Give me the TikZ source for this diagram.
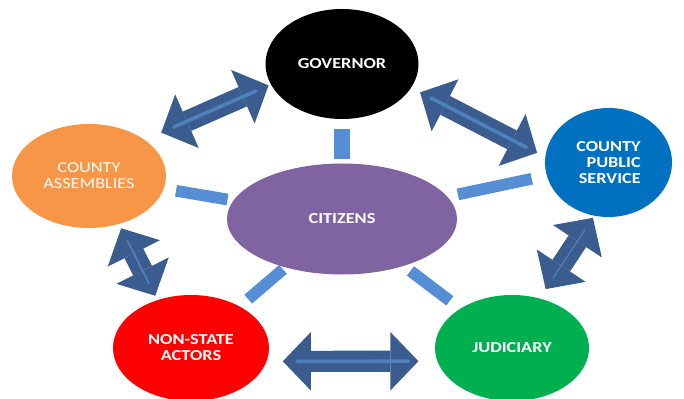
\documentclass[tikz,border=0pt]{standalone}
\usepackage{fontspec}
\setmainfont{Carlito}[FakeStretch=1.2]
\usetikzlibrary{shapes.geometric,arrows.meta}

\definecolor{psblue}{RGB}{0,112,192}
\definecolor{assorange}{RGB}{247,150,70}
\definecolor{citpurple}{RGB}{128,100,162}
\definecolor{nsred}{RGB}{255,0,0}
\definecolor{judgreen}{RGB}{0,176,80}
\definecolor{arrowblue}{RGB}{59,92,142}
\definecolor{stripeblue}{RGB}{79,129,189}
\definecolor{barblue}{RGB}{85,142,213}

\begin{document}
\begin{tikzpicture}[x=0.03cm, y=-0.03cm,
    body/.style={ellipse, inner sep=0pt, text=white, align=center,
        font=\fontsize{13}{13.7}\selectfont\bfseries},
    bar/.style={barblue, line width=10pt},
    dblarrow/.style={arrowblue, line width=18pt,
        {Triangle[length=24pt,width=50pt,line width=0pt]}-{Triangle[length=24pt,width=50pt,line width=0pt]}},
    stripe/.style={stripeblue, line width=3pt, line cap=round}]
    \useasboundingbox (0,0) rectangle (684,399);

    % Centre and outer bodies
    \node[body, fill=citpurple, minimum width=6.9cm, minimum height=3.33cm] (cit) at (342,219) {CITIZENS};
    \node[body, fill=black, minimum width=4.59cm, minimum height=3.3cm] (gov) at (342,64) {GOVERNOR};
    \node[body, fill=psblue, minimum width=3.81cm, minimum height=3.27cm, align=right] (ps) at (608.5,162.5) {COUNTY\\PUBLIC\\SERVICE};
    \node[body, fill=assorange, minimum width=4.62cm, minimum height=3.12cm, font=\fontsize{13}{13.7}\selectfont] (ass) at (89,176) {COUNTY\\ASSEMBLIES};
    \node[body, fill=nsred, minimum width=4.68cm, minimum height=3.18cm] (ns) at (191,348) {NON-STATE\\ACTORS};
    \node[body, fill=judgreen, minimum width=4.62cm, minimum height=3.18cm] (jud) at (512,348) {JUDICIARY};

    % Short bars from the citizens
    \draw[bar, line width=13pt, shorten <=4pt, shorten >=8pt] (cit) -- (gov);
    \draw[bar, shorten <=5pt, shorten >=10.5pt] (cit) -- (ass);
    \draw[bar, shorten <=9pt, shorten >=13pt] (cit) -- (ps);
    \draw[bar, shorten <=2.5pt, shorten >=9.5pt] (cit) -- (ns);
    \draw[bar, shorten <=7pt, shorten >=11pt] (cit) -- (jud);

    % Double arrows round the ring
    \draw[dblarrow, shorten <=15.4pt, shorten >=2pt] (ass.33) -- (gov.196);
    \draw[stripe, shorten <=27pt, shorten >=14pt] (ass.33) -- (gov.196);

    \draw[dblarrow, shorten <=8.5pt, shorten >=7.7pt] (gov.341) -- (ps.175);
    \draw[stripe, shorten <=19pt, shorten >=18pt] (gov.341) -- (ps.175);

    \draw[dblarrow, shorten <=2pt, shorten >=9.4pt] (ps.255) -- (jud.61);
    \draw[stripe, line width=1pt, shorten <=14pt, shorten >=21pt] (ps.255) -- (jud.61);

    \draw[dblarrow, shorten <=4pt, shorten >=4pt] (ass.302) -- (ns.125);
    \draw[stripe, line width=1.5pt, shorten <=16pt, shorten >=16pt] (ass.302) -- (ns.125);

    \draw[dblarrow, shorten <=13.7pt, shorten >=16pt] (ns.-10) -- (jud.190);
    \draw[stripe, shorten <=26pt, shorten >=24.5pt] (ns.-10) -- (jud.190);
\end{tikzpicture}
\end{document}
